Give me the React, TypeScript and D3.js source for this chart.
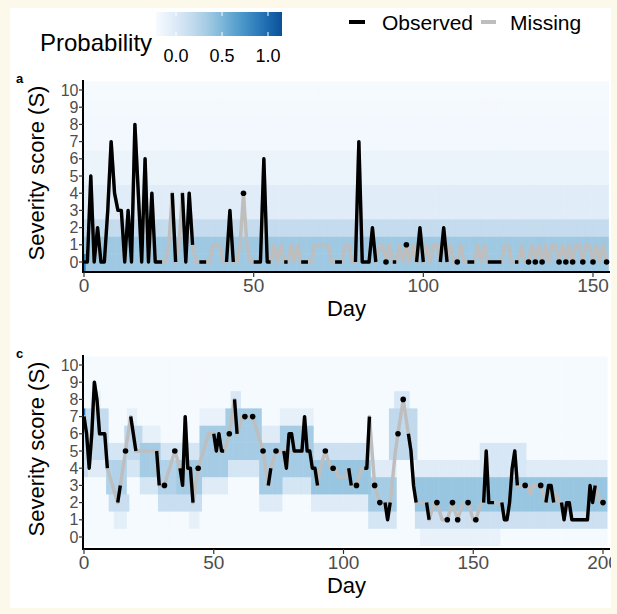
import React from 'react';
import * as d3 from 'd3';

const W = 617;
const H = 614;

const scores = d3.range(0, 11);
const probTicks = [0, 0.5, 1];
const xTicksA = [0, 50, 100, 150];
const xTicksC = [0, 50, 100, 150, 200];

// panel a: observed severity per day (null = missing day)
const observedA: (number | null)[] = [
  0, 0, 5, 0, 2, 0, 0, 3, 7, 4,
  3, 3, 0, 3, 0, 8, 4, 0, 6, 0,
  4, 0, 0, 0, null, null, 4, 0, null, 4,
  0, 4, 1, null, 0, 0, 0, null, null, null,
  null, null, 0, 3, 0, null, null, 4, null, null,
  0, 0, 0, 6, 0, 0, null, null, null, 0,
  0, null, null, null, 0, 0, 0, null, null, null,
  null, null, null, null, 0, 0, 0, null, null, null,
  0, 7, 0, 0, 0, 2, 0, null, null, 0,
  null, 0, 0, null, null, 1, null, null, 0, 2,
  0, null, null, null, null, 0, 2, 0, null, null,
  0, null, null, 0, 0, 0, null, null, null, 0,
  0, 0, 0, 0, null, null, null, 0, 0, null,
  null, 0, null, 0, null, 0, null, null, null, null,
  0, null, 0, null, 0, null, null, 0, null, null,
  0, null, null, null, 0,
];
// panel a: imputed severity on the missing days
const imputedA: (number | null)[] = [
  null, null, null, null, null, null, null, null, null, null,
  null, null, null, null, null, null, null, null, null, null,
  null, null, null, null, 0, 1, null, null, 1, null,
  null, null, null, 0, null, null, null, 0, 1, 1,
  1, 0, null, null, null, 0, 1, null, 1, 0,
  null, null, null, null, null, null, 1, 0, 1, null,
  null, 1, 0, 1, null, null, null, 0, 1, 1,
  1, 1, 1, 0, null, null, null, 1, 1, 0,
  null, null, null, null, null, null, null, 1, 1, null,
  1, null, null, 1, 0, null, 0, 1, null, null,
  null, 1, 0, 1, 1, null, null, null, 1, 0,
  null, 1, 0, null, null, null, 1, 0, 1, null,
  null, null, null, null, 1, 1, 0, null, null, 1,
  0, null, 1, null, 1, null, 1, 0, 1, 1,
  null, 1, null, 1, null, 1, 1, null, 1, 1,
  null, 1, 0, 1, null,
];
// panel a: probability per score row (same on every day)
const rowProbA = [0.42, 0.42, 0.28, 0.13, 0.13, 0.07, 0.07, 0.03, 0.03, 0.015, 0.01];
const startCellA = { day: 0, score: 0, p: 0.8 };

// panel c
const observedC: (number | null)[] = [
  7, 6, 4, 6, 9, 8, 6, 6, 6, 4,
  null, null, null, 2, 3, null, 5, null, 7, 6,
  5, null, null, null, null, null, null, null, 5, 3,
  null, 3, null, null, null, 5, null, 4, 3, 7,
  4, 4, 2, null, 4, null, null, null, null, null,
  6, 5, 6, 5, 5, null, 6, null, 8, 6,
  null, null, 7, null, null, 7, null, null, null, 5,
  null, 3, 4, null, 5, null, null, 5, 4, 6,
  6, 5, 5, 5, 5, 7, 5, 5, 4, 4,
  3, null, null, 5, null, null, 4, null, null, null,
  null, null, 4, 3, null, 3, null, null, 4, 4,
  7, null, 3, null, 2, null, 2, 1, 2, null,
  null, 6, null, 8, null, 6, 5, 3, 2, null,
  null, null, 2, 1, null, null, 2, null, null, null,
  1, null, 2, null, 1, null, null, null, 2, null,
  null, 1, null, null, 2, 5, 2, 2, 2, null,
  null, 2, 1, 1, 2, 4, 5, 3, null, null,
  3, null, null, null, null, null, 3, null, 2, 3,
  3, 2, null, null, 2, 1, 2, 2, 1, 1,
  1, 1, 1, 1, 1, 3, 2, 3, null, null,
  2,
];
const imputedC: (number | null)[] = [
  null, null, null, null, null, null, null, null, null, null,
  3.5, 3, 2.5, null, null, 4, null, 6, null, null,
  null, 5, 5, 5, 5, 5, 5, 5, null, null,
  3, null, 3.5, 4, 4.5, null, 4.5, null, null, null,
  null, null, null, 3, null, 4.5, 5, 5.5, 6, 6,
  null, null, null, null, null, 5.5, null, 7, null, null,
  6.5, 7, null, 7, 7, null, 6.5, 6, 5.5, null,
  4, null, null, 4.5, null, 5, 5, null, null, null,
  null, null, null, null, null, null, null, null, null, null,
  null, 4, 4.5, null, 4.5, 4, null, 4, 3.5, 3.5,
  3.5, 3.5, null, null, 3, null, 3.5, 4, null, null,
  null, 5, null, 2.5, null, 2, null, null, null, 3.5,
  5, null, 7, null, 7, null, null, null, null, 2,
  2, 2, null, null, 1.5, 2, null, 1.5, 1, 1,
  null, 1.5, null, 1.5, null, 1.5, 2, 2, null, 1.5,
  1, null, 1.5, 2, null, null, null, null, null, 2,
  2, null, null, null, null, null, null, null, 3, 3,
  null, 3, 2.5, 3, 3, 3, null, 2.5, null, null,
  null, null, 2.5, 2, null, null, null, null, null, null,
  null, null, null, null, null, null, null, null, 2.5, 2,
  null,
];
const startCellC = { day: 0, score: 7, p: 0.85 };
// panel c probability blocks: [first day, last day, low score, high score, probability]
const blocksC: [number, number, number, number, number][] = [
  [0, 1, 4, 6, 0.26], [1, 9, 5, 7, 0.28], [2, 9, 4, 4, 0.14], [3, 6, 8, 8, 0.1],
  [9, 16, 3, 4, 0.36], [9, 16, 5, 5, 0.2], [10, 17, 2, 2, 0.26], [12, 16, 1, 1, 0.12],
  [16, 22, 5, 6, 0.3], [16, 22, 4, 4, 0.2], [17, 20, 7, 7, 0.1],
  [22, 29, 4, 5, 0.4], [22, 29, 3, 3, 0.2], [22, 29, 6, 6, 0.1],
  [29, 36, 3, 4, 0.36], [29, 36, 2, 2, 0.26], [29, 36, 5, 5, 0.2],
  [36, 45, 3, 4, 0.4], [36, 45, 2, 2, 0.26], [36, 45, 5, 5, 0.2], [41, 44, 1, 1, 0.1],
  [45, 55, 4, 6, 0.4], [45, 55, 3, 3, 0.14], [45, 55, 7, 7, 0.08],
  [55, 68, 5, 7, 0.4], [55, 68, 4, 4, 0.2], [57, 60, 8, 8, 0.18],
  [68, 76, 3, 5, 0.4], [68, 76, 2, 2, 0.14], [68, 76, 6, 6, 0.14],
  [76, 88, 4, 6, 0.4], [76, 88, 3, 3, 0.2], [76, 88, 7, 7, 0.1],
  [88, 110, 3, 4, 0.44], [88, 110, 5, 5, 0.24], [88, 110, 2, 2, 0.14],
  [110, 120, 2, 3, 0.4], [110, 120, 1, 1, 0.2], [110, 120, 4, 4, 0.14],
  [118, 128, 5, 7, 0.3], [120, 125, 8, 8, 0.18],
  [128, 201, 2, 3, 0.44], [128, 201, 1, 1, 0.24], [128, 201, 4, 4, 0.14],
  [130, 160, 0, 0, 0.08], [153, 170, 4, 5, 0.18],
];

const blues = (p: number) => d3.interpolateBlues(0.875 * p);

function gridA(n: number) {
  const g = d3.range(n).map(() => scores.map((s) => rowProbA[s]));
  g[startCellA.day][startCellA.score] = startCellA.p;
  return g;
}

function gridC(n: number) {
  const g = d3.range(n).map(() => scores.map(() => 0.012));
  blocksC.forEach(([d0, d1, s0, s1, p]) => {
    for (let d = d0; d <= Math.min(d1, n - 1); d++)
      for (let s = s0; s <= s1; s++) g[d][s] = Math.max(g[d][s], p);
  });
  g[startCellC.day][startCellC.score] = startCellC.p;
  return g;
}

const font = "'Liberation Sans', Arial, Helvetica, sans-serif";
const left = 83;
const right = 610;

type PanelProps = {
  id: string;
  tag: string;
  observed: (number | null)[];
  imputed: (number | null)[];
  grid: number[][];
  x: d3.ScaleLinear<number, number>;
  y: d3.ScaleLinear<number, number>;
  xTicks: number[];
  top: number;
  bottom: number;
};

function Panel({ id, tag, observed, imputed, grid, x, y, xTicks, top, bottom }: PanelProps) {
  const merged = observed.map((v, i) => (v !== null ? v : imputed[i]));
  const grayPath = d3
    .line<number | null>()
    .defined((v) => v !== null)
    .x((_, i) => x(i))
    .y((v) => y(v as number))(merged);
  const blackPath = d3
    .line<number | null>()
    .defined((v) => v !== null)
    .x((_, i) => x(i))
    .y((v) => y(v as number))(observed);
  const dots = observed
    .map((v, i) => ({ v, i }))
    .filter((d) => d.v !== null && observed[d.i - 1] == null && observed[d.i + 1] == null);
  const mid = (top + bottom) / 2 - 3;

  return (
    <g>
      <defs>
        <clipPath id={'clip-' + id}>
          <rect x={left} y={top} width={right - left} height={bottom - top - 1} />
        </clipPath>
      </defs>
      <g clipPath={`url(#clip-${id})`}>
        {grid.map((col, d) =>
          col.map((p, s) => (
            <rect
              key={d + '-' + s}
              x={x(d - 0.5)}
              y={y(s + 0.5)}
              width={x(d + 0.5) - x(d - 0.5) + 0.6}
              height={y(s - 0.5) - y(s + 0.5) + 0.4}
              fill={blues(p)}
            />
          ))
        )}
        <path d={grayPath ?? ''} fill="none" stroke="#bebebe" strokeWidth={3.4} strokeLinejoin="round" strokeLinecap="round" />
        <path d={blackPath ?? ''} fill="none" stroke="#000" strokeWidth={3.4} strokeLinejoin="round" strokeLinecap="butt" />
        {dots.map((d) => (
          <circle key={d.i} cx={x(d.i)} cy={y(d.v as number)} r={2.8} fill="#000" />
        ))}
      </g>
      {/* axes */}
      <line x1={left} x2={left} y1={top} y2={bottom + 1} stroke="#000" strokeWidth={2} />
      <line x1={left - 1} x2={right} y1={bottom} y2={bottom} stroke="#000" strokeWidth={2} />
      {scores.map((s) => (
        <g key={s}>
          <line x1={left - 4} x2={left} y1={y(s)} y2={y(s)} stroke="#333" strokeWidth={1.2} />
          <text x={78.5} y={y(s) + 5.5} textAnchor="end" fontSize={16} fill="#4d4d4d" fontFamily={font}>
            {s}
          </text>
        </g>
      ))}
      {xTicks.map((t) => (
        <g key={t}>
          <line x1={x(t)} x2={x(t)} y1={bottom} y2={bottom + 5} stroke="#333" strokeWidth={1.2} />
          <text x={x(t)} y={bottom + 20} textAnchor="middle" fontSize={19} fill="#4d4d4d" fontFamily={font}>
            {t}
          </text>
        </g>
      ))}
      <text x={(left + right) / 2} y={bottom + 44} textAnchor="middle" fontSize={22} fill="#000" fontFamily={font}>
        Day
      </text>
      <text
        transform={`translate(44,${mid}) rotate(-90)`}
        textAnchor="middle"
        fontSize={22}
        fill="#000"
        fontFamily={font}
      >
        Severity score (S)
      </text>
      <text x={16} y={top + 3} fontSize={13} fontWeight="bold" fill="#000" fontFamily={font}>
        {tag}
      </text>
    </g>
  );
}

export default function App() {
  const xA = d3.scaleLinear().domain([0, 150]).range([84, 593]);
  const yA = d3.scaleLinear().domain([0, 10]).range([262, 90]);
  const xC = d3.scaleLinear().domain([0, 200]).range([84, 603]);
  const yC = d3.scaleLinear().domain([0, 10]).range([537, 365]);
  const legendX = d3.scaleLinear().domain([0, 1]).range([176, 268]);

  return (
    <svg
      width={W}
      height={H}
      viewBox={`0 0 ${W} ${H}`}
      style={{ position: 'absolute', left: 0, top: 0, background: '#fff' }}
    >
      <defs>
        <linearGradient id="probGrad" x1="0" x2="1" y1="0" y2="0">
          {d3.range(0, 1.01, 0.1).map((t) => (
            <stop key={t} offset={t} stopColor={blues(t)} />
          ))}
        </linearGradient>
      </defs>
      <rect x={0} y={0} width={W} height={H} fill="#fff" />

      {/* legend */}
      <text x={40} y={51} fontSize={24} fill="#000" fontFamily={font}>
        Probability
      </text>
      <rect x={156} y={12} width={126} height={24} fill="url(#probGrad)" />
      {probTicks.map((t) => (
        <g key={t}>
          <line x1={legendX(t)} x2={legendX(t)} y1={12} y2={16} stroke="#fff" strokeWidth={1} />
          <line x1={legendX(t)} x2={legendX(t)} y1={32} y2={36} stroke="#fff" strokeWidth={1} />
          <text x={legendX(t)} y={62} textAnchor="middle" fontSize={18} fill="#000" fontFamily={font}>
            {t.toFixed(1)}
          </text>
        </g>
      ))}
      <line x1={349} x2={365} y1={22} y2={22} stroke="#000" strokeWidth={4} />
      <text x={382} y={30} fontSize={21} fill="#000" fontFamily={font}>
        Observed
      </text>
      <line x1={481} x2={496} y1={22} y2={22} stroke="#bebebe" strokeWidth={4} />
      <text x={510} y={30} fontSize={21} fill="#000" fontFamily={font}>
        Missing
      </text>

      <Panel
        id="a"
        tag="a"
        observed={observedA}
        imputed={imputedA}
        grid={gridA(observedA.length)}
        x={xA}
        y={yA}
        xTicks={xTicksA}
        top={80}
        bottom={272}
      />
      <Panel
        id="c"
        tag="c"
        observed={observedC}
        imputed={imputedC}
        grid={gridC(observedC.length + 1)}
        x={xC}
        y={yC}
        xTicks={xTicksC}
        top={355}
        bottom={549}
      />

      {/* cream frame around the figure */}
      <path
        d={`M0,0H${W}V${H}H0Z M10,8V608H611V8Z`}
        fill="#fdf9ea"
        fillRule="evenodd"
      />
    </svg>
  );
}
